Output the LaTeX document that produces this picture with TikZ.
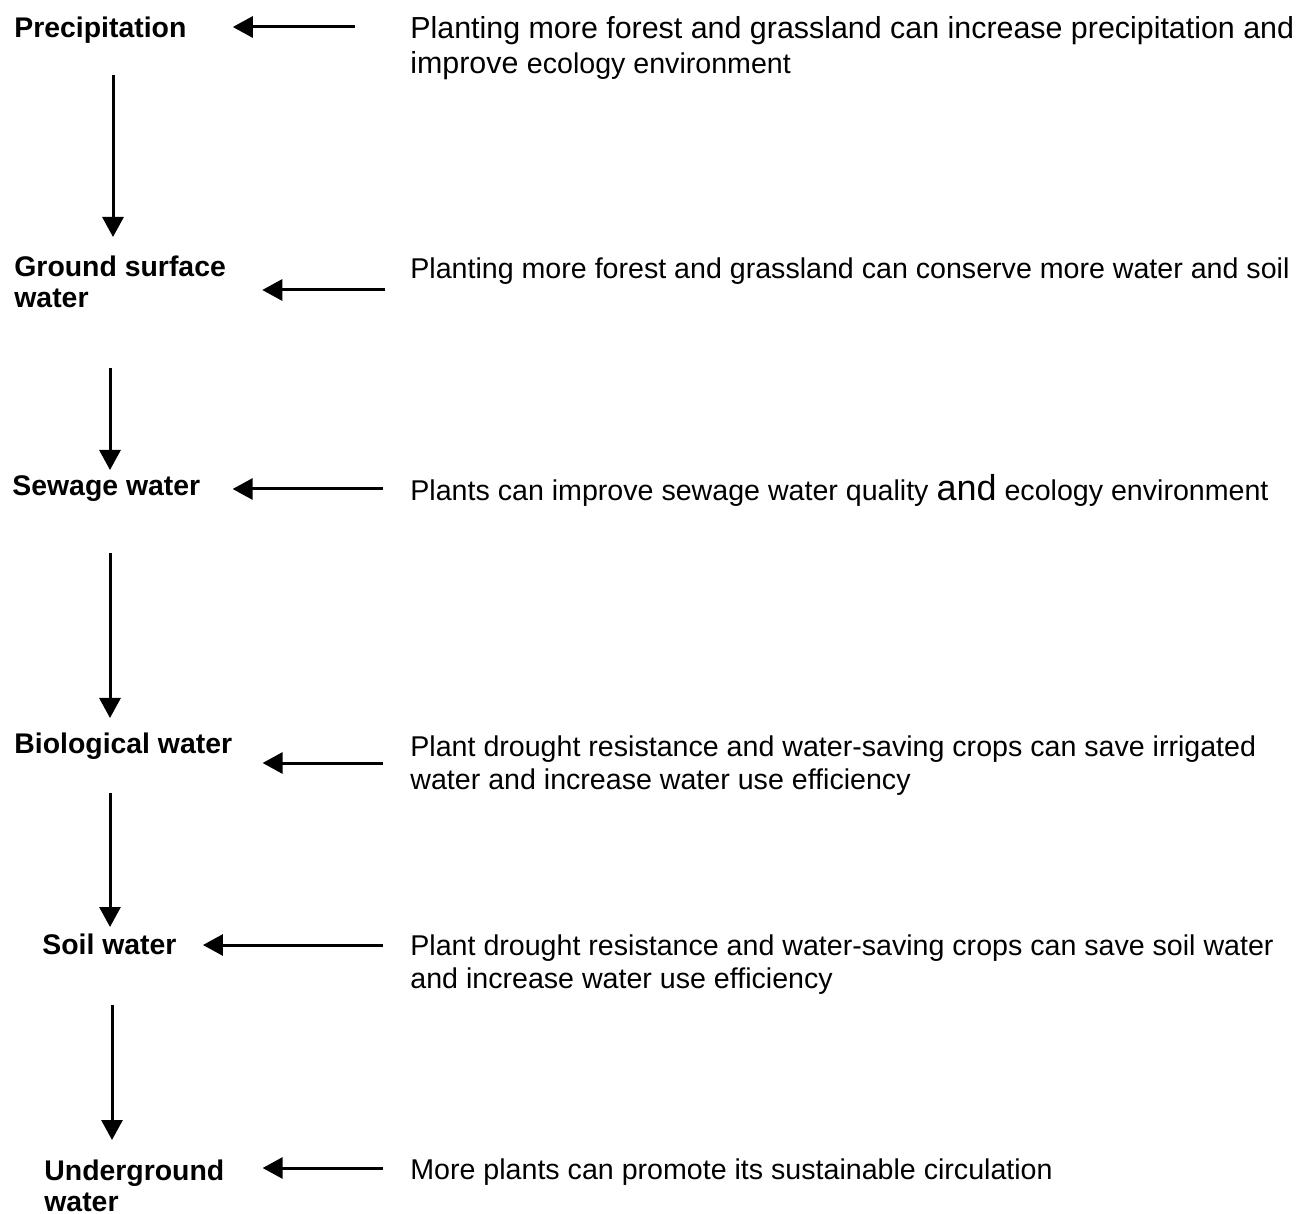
\documentclass[tikz,border=0pt]{standalone}
\usepackage{fontspec}
\setmainfont{Liberation Sans}
\usetikzlibrary{arrows.meta}
\tikzset{
  x=0.5pt, y=-0.5pt,
  flow/.style={-{Triangle[length=10pt,width=10.5pt]}, line width=1.5pt},
  lbl/.style={anchor=base west, inner sep=0pt, align=left, font=\fontsize{14.2}{15.5}\selectfont\bfseries},
  note/.style={anchor=base west, inner sep=0pt, align=left, font=\fontsize{14.3}{16.5}\selectfont},
}

\begin{document}
\begin{tikzpicture}
  \useasboundingbox (0,0) rectangle (1298,1214);

  % water stages
  \node[lbl] (pre)  at (14,37.5)   {Precipitation};
  \node[lbl] (gsw)  at (14,307.5)  {Ground surface\\water};
  \node[lbl] (sew)  at (12,495.5)  {Sewage water};
  \node[lbl] (bio)  at (14,753.5)  {Biological water};
  \node[lbl] (soil) at (42,954.5)  {Soil water};
  \node[lbl] (und)  at (44,1211.5) {Underground\\water};

  % effects of plants
  \node[note, font=\fontsize{15.2}{17.5}\selectfont] (t1) at (410,73.5)
    {Planting more forest and grassland can increase precipitation and\\improve {\fontsize{14.3}{17.5}\selectfont ecology environment}};
  \node[note] (t2) at (410,278.5)  {Planting more forest and grassland can conserve more water and soil};
  \node[note] (t3) at (410,500.5)  {Plants can improve sewage water quality {\fontsize{18}{18}\selectfont and} ecology environment};
  \node[note] (t4) at (410,789.5)  {Plant drought resistance and water-saving crops can save irrigated\\water and increase water use efficiency};
  \node[note] (t5) at (410,988.5)  {Plant drought resistance and water-saving crops can save soil water\\and increase water use efficiency};
  \node[note] (t6) at (410,1179.5) {More plants can promote its sustainable circulation};

  % arrow levels
  \coordinate (h1) at (0,27);
  \coordinate (h2) at (0,290);
  \coordinate (h3) at (0,489);
  \coordinate (h4) at (0,763);
  \coordinate (h5) at (0,945);
  \coordinate (h6) at (0,1168);
  \coordinate (ax) at (111,0);

  % plants act on each stage
  \draw[flow, shorten <=27.5pt, shorten >=23pt] (t1.west |- h1) -- (pre.east |- h1);
  \draw[flow, shorten <=12.5pt, shorten >=18pt] (t2.west |- h2) -- (gsw.east |- h2);
  \draw[flow, shorten <=13.5pt, shorten >=16pt] (t3.west |- h3) -- (sew.east |- h3);
  \draw[flow, shorten <=13.5pt, shorten >=15pt] (t4.west |- h4) -- (bio.east |- h4);
  \draw[flow, shorten <=13.5pt, shorten >=13pt] (t5.west |- h5) -- (soil.east |- h5);
  \draw[flow, shorten <=13.5pt, shorten >=19pt] (t6.west |- h6) -- (und.east |- h6);

  % water cycle
  \draw[flow] ([xshift=1pt,yshift=-18.75pt]pre.base -| ax) -- ([xshift=1pt,yshift=35.25pt]gsw.base -| ax);
  \draw[flow] ([xshift=-0.5pt,yshift=-30.25pt]gsw.base -| ax) -- ([xshift=-0.5pt,yshift=12.75pt]sew.base -| ax);
  \draw[flow] ([xshift=-0.5pt,yshift=-28.75pt]sew.base -| ax) -- ([xshift=-0.5pt,yshift=17.75pt]bio.base -| ax);
  \draw[flow] ([xshift=-0.5pt,yshift=-19.75pt]bio.base -| ax) -- ([xshift=-0.5pt,yshift=13.75pt]soil.base -| ax);
  \draw[flow] ([xshift=0.5pt,yshift=-25.25pt]soil.base -| ax) -- ([xshift=0.5pt,yshift=35.75pt]und.base -| ax);

\end{tikzpicture}
\end{document}
